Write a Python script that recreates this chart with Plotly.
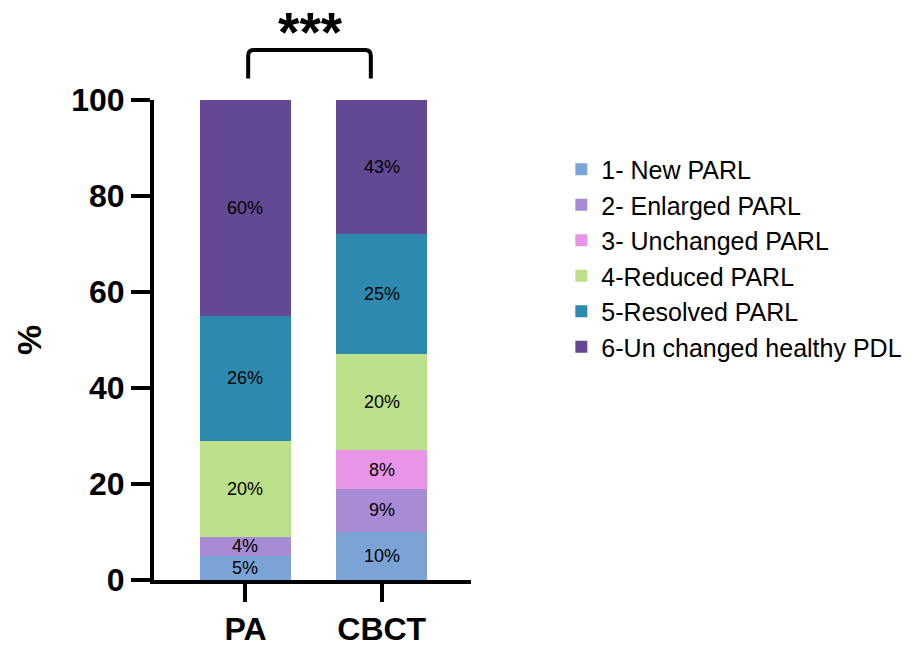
import plotly.graph_objects as go

# Stacked outcome categories (%) per imaging method
methods = ["PA", "CBCT"]
categories = [
    "1- New PARL",
    "2- Enlarged PARL",
    "3- Unchanged PARL",
    "4-Reduced PARL",
    "5-Resolved PARL",
    "6-Un changed healthy PDL",
]
pa_values = [5, 4, 0, 20, 26, 60]
cbct_values = [10, 9, 8, 20, 25, 43]
colors = ["#7BA3D6", "#A78BD5", "#E895E8", "#BCDF8A", "#2D89AE", "#634893"]

y_ticks = [0, 20, 40, 60, 80, 100]
y_max = 100
significance = "***"

FONT = "Arial, Liberation Sans, sans-serif"

fig = go.Figure()
series = {"PA": pa_values, "CBCT": cbct_values}

for i, cat in enumerate(categories):
    fig.add_trace(go.Bar(
        x=methods,
        y=[series[m][i] for m in methods],
        name=cat,
        marker=dict(color=colors[i], line=dict(width=0)),
        width=0.667,
    ))

# Segment labels centred on the visible part of each segment
annotations = []
for m in methods:
    base = 0
    for v in series[m]:
        top = base + v
        if v > 0:
            mid = (base + min(top, y_max)) / 2
            annotations.append(dict(
                x=m, y=mid, xref="x", yref="y", text=f"{v}%",
                showarrow=False, font=dict(family=FONT, size=18, color="black"),
            ))
        base = top

# Significance marker above the bracket
annotations.append(dict(
    x=0.48, y=1.21, xref="x", yref="paper", text=f"<b>{significance}</b>",
    showarrow=False, font=dict(family=FONT, size=55, color="black"),
))

# Bracket joining the two methods, with rounded corners
x0, x1 = 0.02, 0.92
yb, yt = 1.045, 1.104
rx, ry = 0.04, 0.012
bracket = (
    f"M {x0},{yb} L {x0},{yt - ry} Q {x0},{yt} {x0 + rx},{yt} "
    f"L {x1 - rx},{yt} Q {x1},{yt} {x1},{yt - ry} L {x1},{yb}"
)

fig.update_layout(
    barmode="stack",
    width=919, height=646,
    margin=dict(l=154, r=444, t=100, b=66),
    paper_bgcolor="white", plot_bgcolor="white",
    showlegend=True,
    legend=dict(
        x=1.285, y=0.903, xanchor="left", yanchor="top",
        font=dict(family=FONT, size=25, color="black"),
        tracegroupgap=0, itemsizing="constant",
        traceorder="normal",
    ),
    annotations=annotations,
    shapes=[dict(
        type="path", xref="x", yref="paper",
        path=bracket,
        line=dict(color="black", width=4),
    )],
    xaxis=dict(
        range=[-0.671, 1.655],
        automargin=False,
        showline=True, linecolor="black", linewidth=4,
        ticks="outside", ticklen=18, tickwidth=4, tickcolor="black",
        tickfont=dict(family=FONT, size=32, color="black", weight="bold"),
        showgrid=False, zeroline=False,
    ),
    yaxis=dict(
        range=[0, y_max],
        automargin=False,
        tickvals=y_ticks,
        showline=True, linecolor="black", linewidth=4,
        ticks="outside", ticklen=19, tickwidth=4, tickcolor="black",
        tickfont=dict(family=FONT, size=32, color="black", weight="bold"),
        showgrid=False, zeroline=False,
        title=dict(text="%", font=dict(family=FONT, size=34, color="black", weight="bold"), standoff=20),
    ),
)

fig.write_html("out.html")
